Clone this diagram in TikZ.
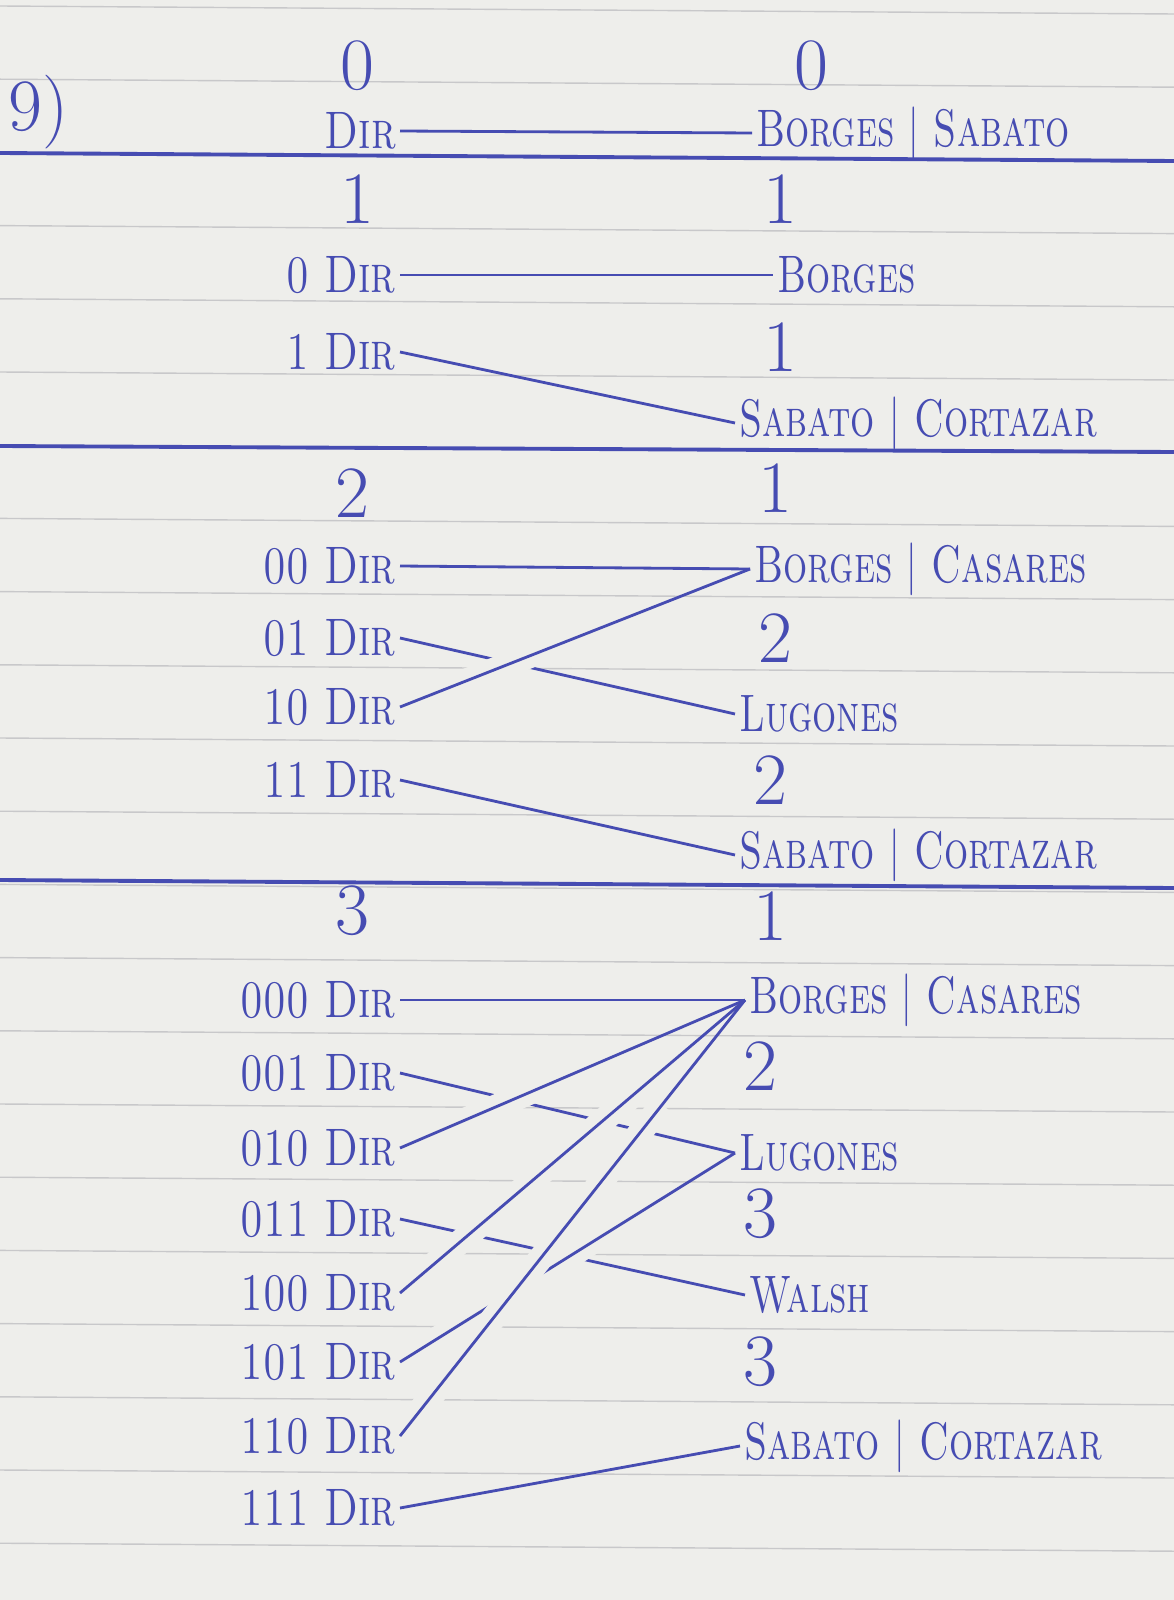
\documentclass[tikz,border=0pt]{standalone}
\usetikzlibrary{positioning}
\definecolor{ink}{RGB}{70,76,178}
\definecolor{paper}{RGB}{238,238,235}
\definecolor{rule}{RGB}{200,200,202}
\newcommand{\bname}[1]{\scalebox{0.72}[1]{#1}}
\newcommand{\dname}[1]{\scalebox{0.78}[1]{#1}}
\tikzset{entry/.style={text=ink, inner sep=1pt,
    font=\fontsize{15}{15}\selectfont\scshape},
  dirnode/.style={entry, anchor=east},
  bucket/.style={entry, anchor=west},
  depth/.style={text=ink, inner sep=1pt, font=\fontsize{21}{21}\selectfont},
  link/.style={draw=ink, thick},
  sep/.style={draw=ink, line width=1.1pt},
  gap/.style={draw=paper, line width=7pt, shorten <=10pt, shorten >=38pt}}

\begin{document}
\begin{tikzpicture}[x=0.01cm, y=-0.01cm]
    \useasboundingbox (0,0) rectangle (1174,1600);
    \fill[paper] (0,0) rectangle (1174,1600);
    \foreach \k in {0,...,21}
        \draw[rule] (0,6+73.2*\k) -- (1174,14+73.2*\k);

    \draw[sep] (0,153) -- (1174,161);
    \draw[sep] (0,446) -- (1174,452);
    \draw[sep] (0,880) -- (1174,888);

    \node[depth, anchor=west] (q) at (4,112) {9)};

    % depth 0
    \node[depth] (g0) at (357,66) {0};
    \node[depth] (l0) at (811,66) {0};
    \node[dirnode] (r) at (400,131) {\dname{Dir}};
    \node[bucket] (bs) at (752,133) {\bname{Borges \textbar{} Sabato}};

    % depth 1
    \node[depth] (g1) at (357,199) {1};
    \node[depth] (l1a) at (780,199) {1};
    \node[dirnode] (r0) at (400,275) {\dname{0 Dir}};
    \node[bucket] (b1) at (773,275) {\bname{Borges}};
    \node[dirnode] (r1) at (400,352) {\dname{1 Dir}};
    \node[depth] (l1b) at (780,347) {1};
    \node[bucket] (sc1) at (735,423) {\bname{Sabato \textbar{} Cortazar}};

    % depth 2
    \node[depth] (g2) at (352,493) {2};
    \node[depth] (l2a) at (775,488) {1};
    \node[dirnode] (r00) at (400,566) {\dname{00 Dir}};
    \node[bucket] (bc2) at (750,569) {\bname{Borges \textbar{} Casares}};
    \node[depth] (l2b) at (775,638) {2};
    \node[dirnode] (r01) at (400,638) {\dname{01 Dir}};
    \node[dirnode] (r10) at (400,707) {\dname{10 Dir}};
    \node[bucket] (lu2) at (735,714) {\bname{Lugones}};
    \node[depth] (l2c) at (770,780) {2};
    \node[dirnode] (r11) at (400,780) {\dname{11 Dir}};
    \node[bucket] (sc2) at (735,855) {\bname{Sabato \textbar{} Cortazar}};

    % depth 3
    \node[depth] (g3) at (352,911) {3};
    \node[depth] (l3a) at (770,916) {1};
    \node[dirnode] (r000) at (400,1000) {\dname{000 Dir}};
    \node[bucket] (bc3) at (745,1000) {\bname{Borges \textbar{} Casares}};
    \node[depth] (l3b) at (760,1066) {2};
    \node[dirnode] (r001) at (400,1073) {\dname{001 Dir}};
    \node[dirnode] (r010) at (400,1148) {\dname{010 Dir}};
    \node[bucket] (lu3) at (735,1153) {\bname{Lugones}};
    \node[depth] (l3c) at (760,1214) {3};
    \node[dirnode] (r011) at (400,1219) {\dname{011 Dir}};
    \node[dirnode] (r100) at (400,1293) {\dname{100 Dir}};
    \node[bucket] (wa3) at (745,1295) {\bname{Walsh}};
    \node[depth] (l3d) at (760,1362) {3};
    \node[dirnode] (r101) at (400,1362) {\dname{101 Dir}};
    \node[dirnode] (r110) at (400,1436) {\dname{110 Dir}};
    \node[bucket] (sc3) at (740,1446) {\bname{Sabato \textbar{} Cortazar}};
    \node[dirnode] (r111) at (400,1508) {\dname{111 Dir}};

    \path[link]
    (r.east) edge (bs.west)
    (r0.east) edge (b1.west)
    (r1.east) edge (sc1.west)
    (r00.east) edge (bc2.west)
    (r01.east) edge (lu2.west)
    (r11.east) edge (sc2.west)
    (r000.east) edge (bc3.west)
    (r001.east) edge (lu3.west)
    (r011.east) edge (wa3.west)
    (r111.east) edge (sc3.west)
    ;

    % crossing lines pass over the others
    \draw[gap] (r10.east) -- (bc2.west);
    \draw[link] (r10.east) -- (bc2.west);
    \draw[gap] (r101.east) -- (lu3.west);
    \draw[link] (r101.east) -- (lu3.west);
    \draw[gap] (r100.east) -- (bc3.west);
    \draw[link] (r100.east) -- (bc3.west);
    \draw[gap] (r110.east) -- (bc3.west);
    \draw[link] (r110.east) -- (bc3.west);
    \draw[gap] (r010.east) -- (bc3.west);
    \draw[link] (r010.east) -- (bc3.west);
\end{tikzpicture}
\end{document}
